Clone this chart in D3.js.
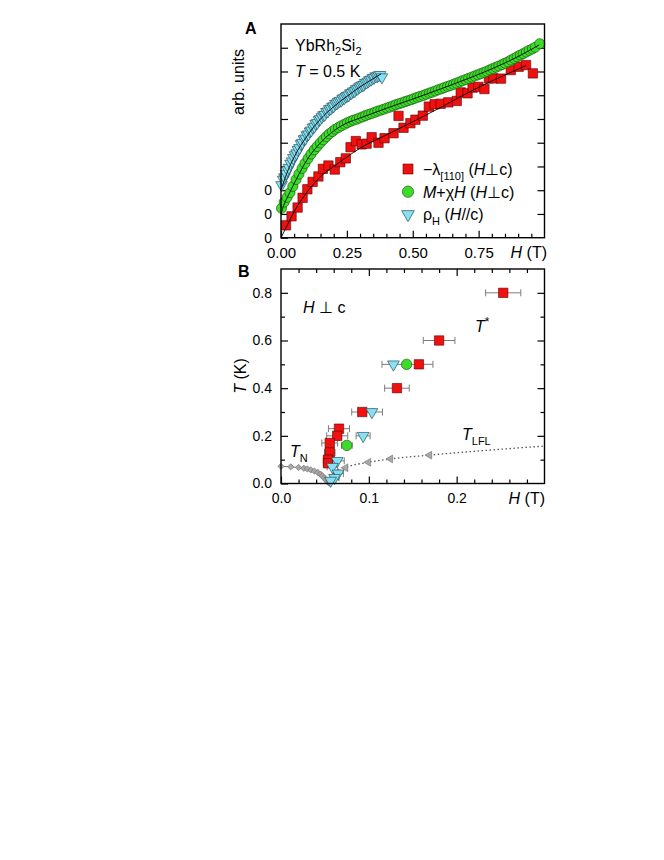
<!DOCTYPE html>
<html lang="en">
<head>
<meta charset="UTF-8">
<title>YbRh2Si2 T* line</title>
<script src="https://d3js.org/d3.v7.min.js"></script>
<style>
  body { margin: 0; background: #fff; }
  svg text { font-family: "Liberation Sans", Arial, Helvetica, sans-serif; fill: #000; }
</style>
</head>
<body>
<svg width="664" height="860"></svg>
<script>
// ---- panel A : field sweeps at T = 0.5 K (offset by 0, 1, 2 units) ----
const lambdaPts = [[0.019,0.52],[0.040,0.90],[0.063,1.27],[0.082,1.68],[0.100,2.04],[0.120,2.35],[0.142,2.58],[0.159,2.90],
  [0.180,3.04],[0.204,2.87],[0.225,3.18],[0.246,3.34],[0.264,3.81],[0.284,4.07],[0.306,3.93],[0.325,3.96],[0.344,4.23],
  [0.370,4.00],[0.393,4.19],[0.427,4.40],[0.446,5.13],[0.465,4.63],[0.491,4.82],[0.510,4.97],[0.538,5.14],[0.561,5.52],
  [0.583,5.62],[0.606,5.64],[0.635,5.70],[0.667,5.76],[0.682,6.12],[0.708,6.08],[0.727,6.32],[0.749,6.35],[0.772,6.26],
  [0.789,6.71],[0.806,6.71],[0.835,6.70],[0.872,7.06],[0.902,7.20],[0.930,7.27],[0.956,6.92]];
const lambdaFit = [[0,0],[0.025,0.55],[0.05,1.1],[0.1,1.94],[0.15,2.57],[0.2,3.0],[0.25,3.4],[0.3,3.77],[0.4,4.33],
  [0.5,4.88],[0.6,5.45],[0.7,6.05],[0.8,6.6],[0.9,7.1],[0.93,7.25]];

const magH = [0.002,0.012,0.023,0.034,0.045,0.057,0.068,0.080,0.091,0.103,0.114,0.126,0.137,0.149,0.160,0.172,0.183,0.195,
  0.206,0.218,0.229,0.241,0.252,0.264,0.275,0.287,0.298,0.310,0.321,0.333,0.344,0.356,0.367,0.379,0.390,0.402,0.413,0.425,
  0.436,0.448,0.459,0.471,0.482,0.494,0.505,0.517,0.528,0.540,0.551,0.563,0.574,0.586,0.597,0.609,0.620,0.632,0.643,0.655,
  0.666,0.678,0.689,0.701,0.712,0.724,0.735,0.747,0.758,0.770,0.781,0.793,0.804,0.816,0.827,0.839,0.850,0.862,0.873,0.885,
  0.896,0.908,0.919,0.931,0.942,0.954,0.965,0.982];
const magY = [1.24,1.50,1.70,1.90,2.16,2.45,2.68,2.92,3.13,3.34,3.52,3.70,3.84,3.99,4.12,4.25,4.37,4.47,
  4.57,4.64,4.71,4.78,4.84,4.90,4.95,4.99,5.04,5.09,5.14,5.19,5.23,5.28,5.33,5.37,5.41,5.46,5.50,5.55,
  5.60,5.64,5.68,5.73,5.77,5.81,5.86,5.91,5.95,5.99,6.04,6.09,6.13,6.18,6.23,6.27,6.32,6.37,6.41,6.46,
  6.51,6.56,6.61,6.66,6.71,6.76,6.81,6.86,6.91,6.96,7.01,7.07,7.12,7.18,7.23,7.29,7.35,7.41,7.48,7.55,
  7.62,7.69,7.75,7.82,7.89,7.95,8.02,8.17];
const magFit = [[0,1.0],[0.01,1.35],[0.03,1.83],[0.06,2.5],[0.1,3.3],[0.15,4.0],[0.2,4.5],[0.25,4.83],[0.3,5.04],
  [0.4,5.45],[0.5,5.84],[0.6,6.24],[0.7,6.66],[0.8,7.11],[0.9,7.63],[0.98,8.12]];

const hallH = [0.002,0.008,0.013,0.019,0.025,0.030,0.036,0.042,0.047,0.053,0.059,0.064,0.070,0.076,0.081,0.087,0.093,0.098,
  0.104,0.110,0.115,0.121,0.127,0.132,0.138,0.144,0.149,0.155,0.161,0.166,0.172,0.178,0.183,0.189,0.195,0.200,0.206,0.212,
  0.217,0.223,0.229,0.234,0.240,0.246,0.251,0.257,0.263,0.268,0.274,0.280,0.285,0.291,0.297,0.302,0.308,0.314,0.319,0.325,
  0.331,0.336,0.342,0.348,0.353,0.359,0.365,0.370,0.376,0.383];
const hallY = [2.22,2.45,2.55,2.70,2.85,2.95,3.12,3.22,3.36,3.48,3.56,3.70,3.78,3.95,4.00,4.15,4.18,4.32,
  4.36,4.48,4.52,4.64,4.68,4.80,4.84,4.96,5.00,5.08,5.16,5.18,5.30,5.32,5.42,5.44,5.52,5.54,5.64,5.66,
  5.72,5.76,5.78,5.86,5.88,5.94,5.98,6.00,6.08,6.10,6.16,6.18,6.26,6.28,6.34,6.38,6.42,6.44,6.52,6.54,
  6.58,6.64,6.66,6.72,6.74,6.80,6.80,6.84,6.86,6.76];
const hallFit = [[0,2.0],[0.02,2.65],[0.05,3.4],[0.1,4.3],[0.15,5.0],[0.2,5.52],[0.25,5.95],[0.3,6.35],[0.35,6.7],[0.38,6.9]];

const xTicksA = [0, 0.25, 0.5, 0.75];
const xLabelsA = ["0.00", "0.25", "0.50", "0.75"];
const yLabelsA = ["0", "0", "0"];

// ---- panel B : H-T phase diagram, [H, T, dH] ----
const tStarLambda = [[0.253,0.80,0.020],[0.180,0.60,0.018],[0.157,0.50,0.016],[0.132,0.40,0.014],[0.0925,0.30,0.012],
  [0.066,0.23,0.012],[0.064,0.20,0.012],[0.0555,0.17,0.009],[0.0555,0.13,0.006],[0.0535,0.10,0.005],[0.0535,0.085,0.005]];
const tStarMag = [[0.143,0.50,0.003],[0.075,0.16,0.006]];
const tStarHall = [[0.128,0.50,0.013],[0.1035,0.30,0.012],[0.0935,0.20,0.008],[0.064,0.095,0.008],[0.0585,0.07,0.006],
  [0.065,0.042,0.006],[0.061,0.024,0.005],[0.0565,0.012,0.004]];
const tN = [[0.0,0.072],[0.011,0.070],[0.020,0.067],[0.026,0.064],[0.030,0.061],[0.034,0.057],[0.038,0.052],[0.042,0.046],
  [0.045,0.039],[0.047,0.032],[0.049,0.024],[0.051,0.015],[0.053,0.007],[0.055,0.002]];
const tLFL = [[0.0634,0.045],[0.0736,0.066],[0.0995,0.089],[0.1245,0.103],[0.169,0.119]];
const tLFLline = [[0.056,0.022],[0.0634,0.045],[0.0736,0.066],[0.0995,0.089],[0.1245,0.103],[0.169,0.119],[0.23,0.138],[0.3,0.157]];

const xTicksB = [0, 0.1, 0.2];
const xLabelsB = ["0.0", "0.1", "0.2"];
const yTicksB = [0, 0.2, 0.4, 0.6, 0.8];
const yLabelsB = ["0.0", "0.2", "0.4", "0.6", "0.8"];

const RED = "#f01010", GREEN = "#3ddc2a", CYAN = "#86e2f2", GREY = "#a8a8a8";

const svg = d3.select("svg");

var xA = d3.scaleLinear().domain([0, 1.0]).range([281, 544.5]);
var yA = d3.scaleLinear().domain([0, 9]).range([237.7, 24]);
var xB = d3.scaleLinear().domain([0, 0.3]).range([281, 544.5]);
var yB = d3.scaleLinear().domain([0, 0.9]).range([483.5, 269]);

function drawTicks(axisFn, scale, vals, size, labels, fs, pad, tr) {
  const g = svg.append("g").attr("transform", tr);
  g.call(axisFn(scale).tickValues(vals).tickSizeInner(-size).tickSizeOuter(0).tickPadding(pad)
    .tickFormat((d, i) => labels && labels[i] !== undefined ? labels[i] : ""));
  g.select(".domain").remove();
  g.selectAll("line").attr("stroke", "#000").attr("stroke-width", 1.2);
  g.selectAll("text").attr("font-size", fs);
  return g;
}

function frame(x, y) {
  svg.append("rect")
    .attr("x", x.range()[0]).attr("y", y.range()[1])
    .attr("width", x.range()[1] - x.range()[0]).attr("height", y.range()[0] - y.range()[1])
    .attr("fill", "none").attr("stroke", "#000").attr("stroke-width", 1.4);
}

const sym = (type, size) => d3.symbol().type(type).size(size)();

// ================= panel A =================
drawTicks(d3.axisBottom, xA, xTicksA, 7, xLabelsA, 15, 10, "translate(0," + yA(0) + ")");
drawTicks(d3.axisBottom, xA, d3.range(0.05, 1.0, 0.05).filter(v => Math.abs(v / 0.25 - Math.round(v / 0.25)) > 0.01), 4, null, 15, 10, "translate(0," + yA(0) + ")");
drawTicks(d3.axisLeft, yA, d3.range(0, 9), 7, yLabelsA, 14, 9, "translate(" + xA(0) + ",0)");
drawTicks(d3.axisRight, yA, d3.range(1, 9), 7, null, 14, 9, "translate(" + xA(1.0) + ",0)");

const gA = svg.append("g");
gA.selectAll(".red").data(lambdaPts).enter().append("path")
  .attr("d", sym(d3.symbolSquare, 88))
  .attr("transform", d => "translate(" + xA(d[0]) + "," + yA(d[1]) + ")")
  .attr("fill", RED).attr("stroke", "#5a0000").attr("stroke-width", 0.6);
gA.selectAll(".grn").data(magH).enter().append("path")
  .attr("d", sym(d3.symbolCircle, 80))
  .attr("transform", (d, i) => "translate(" + xA(d) + "," + yA(magY[i]) + ")")
  .attr("fill", GREEN).attr("stroke", "#1d5a12").attr("stroke-width", 0.7);
gA.selectAll(".cyn").data(hallH).enter().append("path")
  .attr("d", sym(d3.symbolTriangle, 58))
  .attr("transform", (d, i) => "translate(" + xA(d) + "," + yA(hallY[i]) + ") rotate(180)")
  .attr("fill", CYAN).attr("stroke", "#27505e").attr("stroke-width", 0.7);

const lineA = d3.line().x(d => xA(d[0])).y(d => yA(d[1])).curve(d3.curveMonotoneX);
[lambdaFit, magFit, hallFit].forEach(f => {
  gA.append("path").attr("d", lineA(f)).attr("fill", "none").attr("stroke", "#000").attr("stroke-width", 0.9);
});

frame(xA, yA);

// axis titles & notes
svg.append("text").attr("x", 245).attr("y", 34).attr("font-size", 16).attr("font-weight", "bold").text("A");
svg.append("text").attr("transform", "translate(244,82) rotate(-90)").attr("text-anchor", "middle")
  .attr("font-size", 16).text("arb. units");
var hT = svg.append("text").attr("x", 547).attr("y", 258).attr("text-anchor", "end").attr("font-size", 16);
hT.append("tspan").attr("font-style", "italic").text("H");
hT.append("tspan").text(" (T)");

var yb = svg.append("text").attr("x", 295).attr("y", 51).attr("font-size", 16);
yb.append("tspan").text("YbRh");
yb.append("tspan").attr("font-size", 11).attr("dy", 4).text("2");
yb.append("tspan").attr("dy", -4).text("Si");
yb.append("tspan").attr("font-size", 11).attr("dy", 4).text("2");
var tt = svg.append("text").attr("x", 295).attr("y", 77).attr("font-size", 16);
tt.append("tspan").attr("font-style", "italic").text("T");
tt.append("tspan").text(" = 0.5 K");

// legend
const legY = [169, 191.7, 214.3];
svg.append("path").attr("d", sym(d3.symbolSquare, 100)).attr("transform", "translate(408," + legY[0] + ")")
  .attr("fill", RED).attr("stroke", "#5a0000").attr("stroke-width", 0.6);
svg.append("path").attr("d", sym(d3.symbolCircle, 100)).attr("transform", "translate(408," + legY[1] + ")")
  .attr("fill", GREEN).attr("stroke", "#1d5a12").attr("stroke-width", 0.7);
svg.append("path").attr("d", sym(d3.symbolTriangle, 70)).attr("transform", "translate(408," + legY[2] + ") rotate(180)")
  .attr("fill", CYAN).attr("stroke", "#27505e").attr("stroke-width", 0.7);

var l1 = svg.append("text").attr("x", 423).attr("y", legY[0] + 5.5).attr("font-size", 16);
l1.append("tspan").text("\u2212\u03bb");
l1.append("tspan").attr("font-size", 11).attr("dy", 5).text("[110]");
l1.append("tspan").attr("dy", -5).text(" (");
l1.append("tspan").attr("font-style", "italic").text("H");
l1.append("tspan").text("\u22a5c)");
var l2 = svg.append("text").attr("x", 423).attr("y", legY[1] + 6).attr("font-size", 16);
l2.append("tspan").attr("font-style", "italic").text("M");
l2.append("tspan").text("+\u03c7");
l2.append("tspan").attr("font-style", "italic").text("H");
l2.append("tspan").text(" (");
l2.append("tspan").attr("font-style", "italic").text("H");
l2.append("tspan").text("\u22a5c)");
var l3 = svg.append("text").attr("x", 423).attr("y", legY[2] + 5.5).attr("font-size", 16);
l3.append("tspan").text("\u03c1");
l3.append("tspan").attr("font-size", 11).attr("dy", 5).text("H");
l3.append("tspan").attr("dy", -5).text(" (");
l3.append("tspan").attr("font-style", "italic").text("H");
l3.append("tspan").text("//c)");

// ================= panel B =================
const minorXB = d3.range(0.02, 0.3, 0.02).filter(v => Math.abs(v * 10 - Math.round(v * 10)) > 0.01);
const minorYB = [0.1, 0.3, 0.5, 0.7];
drawTicks(d3.axisBottom, xB, xTicksB, 7, xLabelsB, 14, 10, "translate(0," + yB(0) + ")");
drawTicks(d3.axisBottom, xB, minorXB, 4, null, 14, 10, "translate(0," + yB(0) + ")");
drawTicks(d3.axisTop, xB, xTicksB.slice(1), 7, null, 14, 10, "translate(0," + yB(0.9) + ")");
drawTicks(d3.axisTop, xB, minorXB, 4, null, 14, 10, "translate(0," + yB(0.9) + ")");
drawTicks(d3.axisLeft, yB, yTicksB, 7, yLabelsB, 14, 9, "translate(" + xB(0) + ",0)");
drawTicks(d3.axisLeft, yB, minorYB, 4, null, 14, 9, "translate(" + xB(0) + ",0)");
drawTicks(d3.axisRight, yB, yTicksB.slice(1), 7, null, 14, 9, "translate(" + xB(0.3) + ",0)");
drawTicks(d3.axisRight, yB, minorYB, 4, null, 14, 9, "translate(" + xB(0.3) + ",0)");

const gB = svg.append("g");
const lineB = d3.line().x(d => xB(d[0])).y(d => yB(d[1]));

// T_N and T_LFL (grey)
gB.append("path").attr("d", lineB(tN)).attr("fill", "none").attr("stroke", "#7a7a7a").attr("stroke-width", 1);
gB.append("path").attr("d", lineB.curve(d3.curveMonotoneX)(tLFLline)).attr("fill", "none")
  .attr("stroke", "#555").attr("stroke-width", 1.3).attr("stroke-dasharray", "1.5,2.5");
gB.selectAll(".tn").data(tN).enter().append("path")
  .attr("d", sym(d3.symbolSquare, 20))
  .attr("transform", d => "translate(" + xB(d[0]) + "," + yB(d[1]) + ") rotate(45)")
  .attr("fill", GREY).attr("stroke", "#6e6e6e").attr("stroke-width", 0.6);
gB.selectAll(".tl").data(tLFL).enter().append("path")
  .attr("d", sym(d3.symbolTriangle, 26))
  .attr("transform", d => "translate(" + xB(d[0]) + "," + yB(d[1]) + ") rotate(-90)")
  .attr("fill", GREY).attr("stroke", "#6e6e6e").attr("stroke-width", 0.6);

// error bars
const allErr = tStarLambda.concat(tStarMag, tStarHall);
gB.selectAll(".eb").data(allErr).enter().append("path")
  .attr("d", d => {
    const x0 = xB(d[0] - d[2]), x1 = xB(d[0] + d[2]), y = yB(d[1]);
    return "M" + x0 + "," + y + "H" + x1 + "M" + x0 + "," + (y - 3.5) + "V" + (y + 3.5) + "M" + x1 + "," + (y - 3.5) + "V" + (y + 3.5);
  })
  .attr("fill", "none").attr("stroke", "#7c7c7c").attr("stroke-width", 1);

gB.selectAll(".rb").data(tStarLambda).enter().append("path")
  .attr("d", sym(d3.symbolSquare, 88))
  .attr("transform", d => "translate(" + xB(d[0]) + "," + yB(d[1]) + ")")
  .attr("fill", RED).attr("stroke", "#5a0000").attr("stroke-width", 0.6);
gB.selectAll(".gb").data(tStarMag).enter().append("path")
  .attr("d", sym(d3.symbolCircle, 85))
  .attr("transform", d => "translate(" + xB(d[0]) + "," + yB(d[1]) + ")")
  .attr("fill", GREEN).attr("stroke", "#1d5a12").attr("stroke-width", 0.7);
gB.selectAll(".cb").data(tStarHall).enter().append("path")
  .attr("d", sym(d3.symbolTriangle, 60))
  .attr("transform", d => "translate(" + xB(d[0]) + "," + yB(d[1]) + ") rotate(180)")
  .attr("fill", CYAN).attr("stroke", "#27505e").attr("stroke-width", 0.7);

frame(xB, yB);

svg.append("text").attr("x", 238).attr("y", 277).attr("font-size", 16).attr("font-weight", "bold").text("B");
var ty = svg.append("text").attr("transform", "translate(246,376) rotate(-90)").attr("text-anchor", "middle").attr("font-size", 16);
ty.append("tspan").attr("font-style", "italic").text("T");
ty.append("tspan").text(" (K)");
var hB = svg.append("text").attr("x", 545).attr("y", 504).attr("text-anchor", "end").attr("font-size", 16);
hB.append("tspan").attr("font-style", "italic").text("H");
hB.append("tspan").text(" (T)");

var perp = svg.append("text").attr("x", 303).attr("y", 313).attr("font-size", 16);
perp.append("tspan").attr("font-style", "italic").text("H");
perp.append("tspan").text(" \u22a5 c");
var ts = svg.append("text").attr("x", 475).attr("y", 332).attr("font-size", 16);
ts.append("tspan").attr("font-style", "italic").text("T");
ts.append("tspan").attr("font-size", 12).attr("dy", -6).text("*");
var tl = svg.append("text").attr("x", 462).attr("y", 440).attr("font-size", 16);
tl.append("tspan").attr("font-style", "italic").text("T");
tl.append("tspan").attr("font-size", 11).attr("dy", 5).text("LFL");
var tn = svg.append("text").attr("x", 290).attr("y", 457).attr("font-size", 16);
tn.append("tspan").attr("font-style", "italic").text("T");
tn.append("tspan").attr("font-size", 11).attr("dy", 5).text("N");
</script>
</body>
</html>
